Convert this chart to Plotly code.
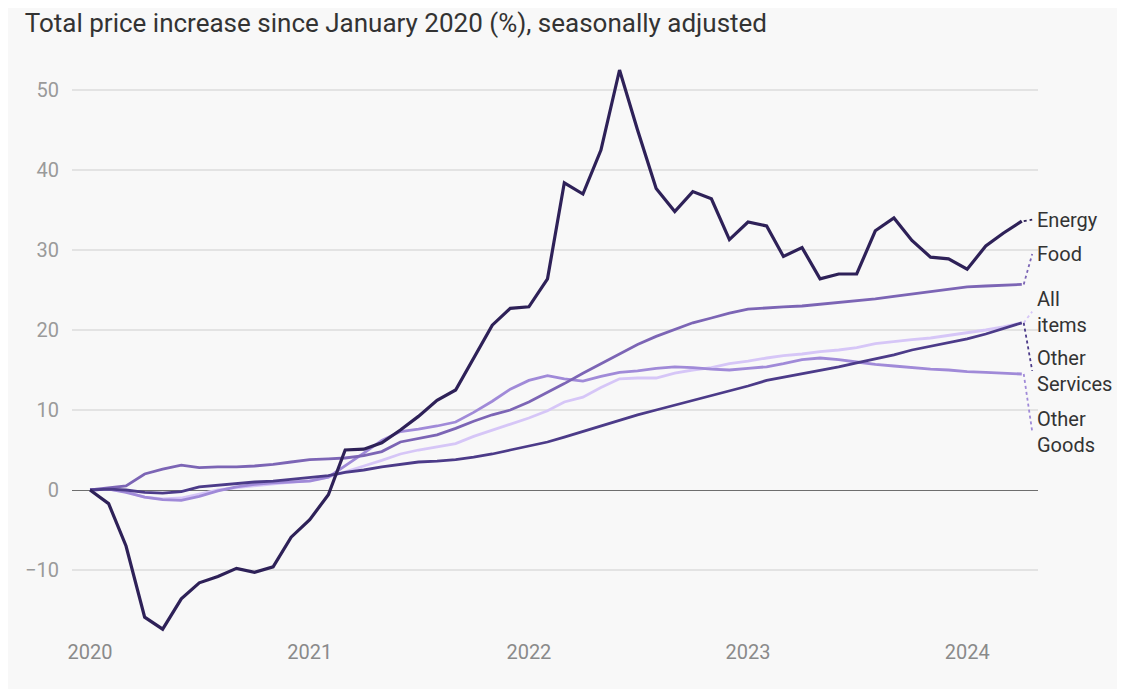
import plotly.graph_objects as go
import pandas as pd

dates = pd.date_range("2020-01-01", "2024-04-01", freq="MS")

energy = [0, -1.7, -7.0, -15.9, -17.4, -13.6, -11.6, -10.8, -9.8, -10.3, -9.6, -5.9,
          -3.7, -0.6, 5.0, 5.1, 5.9, 7.5, 9.2, 11.2, 12.5, 16.5, 20.6, 22.7,
          22.9, 26.4, 38.4, 37.0, 42.5, 52.5, 45.0, 37.7, 34.8, 37.3, 36.4, 31.3,
          33.5, 33.0, 29.2, 30.3, 26.4, 27.0, 27.0, 32.4, 34.0, 31.2, 29.1, 28.9,
          27.6, 30.5, 32.1, 33.6]
food = [0, 0.3, 0.5, 2.0, 2.6, 3.1, 2.8, 2.9, 2.9, 3.0, 3.2, 3.5,
        3.8, 3.9, 4.0, 4.3, 4.8, 6.0, 6.4, 6.9, 7.7, 8.6, 9.4, 10.0,
        11.0, 12.2, 13.3, 14.6, 15.8, 17.1, 18.2, 19.2, 20.1, 20.9, 21.5, 22.1,
        22.6, 22.8, 22.9, 23.0, 23.2, 23.4, 23.6, 23.9, 24.2, 24.5, 24.8, 25.1,
        25.4, 25.5, 25.6, 25.7]
all_items = [0, 0.1, -0.2, -0.9, -1.1, -1.0, -0.5, 0.0, 0.3, 0.5, 0.7, 0.9,
             1.2, 1.6, 2.3, 3.0, 3.7, 4.5, 5.0, 5.4, 5.8, 6.7, 7.5, 8.2,
             9.0, 9.9, 11.0, 11.6, 12.8, 13.9, 14.0, 14.0, 14.6, 15.0, 15.3, 15.8,
             16.1, 16.5, 16.8, 17.0, 17.3, 17.5, 17.8, 18.3, 18.6, 18.8, 19.0, 19.3,
             19.6, 20.0, 20.4, 20.9]
other_services = [0, 0.1, 0.0, -0.3, -0.4, -0.2, 0.4, 0.6, 0.8, 1.0, 1.1, 1.3,
                  1.5, 1.8, 2.2, 2.5, 2.9, 3.2, 3.5, 3.6, 3.8, 4.1, 4.5, 5.0,
                  5.5, 6.0, 6.6, 7.3, 8.0, 8.7, 9.4, 10.0, 10.6, 11.2, 11.8, 12.4,
                  13.0, 13.7, 14.1, 14.5, 15.0, 15.4, 15.9, 16.4, 16.9, 17.5, 18.0, 18.4,
                  18.9, 19.5, 20.2, 20.9]
other_goods = [0, 0.1, -0.3, -0.9, -1.2, -1.3, -0.8, -0.1, 0.4, 0.7, 0.9, 1.0,
               1.1, 1.6, 3.0, 4.6, 6.2, 7.3, 7.6, 8.0, 8.5, 9.7, 11.1, 12.6,
               13.7, 14.3, 13.9, 13.6, 14.2, 14.7, 14.9, 15.2, 15.4, 15.3, 15.1, 15.0,
               15.2, 15.4, 15.8, 16.3, 16.5, 16.3, 16.0, 15.7, 15.5, 15.3, 15.1, 15.0,
               14.8, 14.7, 14.6, 14.5]

series_names = ["All items", "Other Goods", "Food", "Other Services", "Energy"]
series_values = [all_items, other_goods, food, other_services, energy]
series_colors = ["#d6c6f7", "#a08ad8", "#7c65b5", "#4c3b89", "#2e2158"]
series_widths = [2.8, 2.8, 2.8, 2.8, 3.2]
label_texts = {"Energy": "Energy", "Food": "Food", "All items": "All<br>items",
               "Other Services": "Other<br>Services", "Other Goods": "Other<br>Goods"}
label_y = {"Energy": 33.8, "Food": 29.5, "All items": 22.3,
           "Other Services": 14.9, "Other Goods": 7.3}
year_ticks = [2020, 2021, 2022, 2023, 2024]

x_range = [pd.Timestamp("2019-12-02"), pd.Timestamp("2024-04-28")]

fig = go.Figure()
for name, vals, col, w in zip(series_names, series_values, series_colors, series_widths):
    fig.add_trace(go.Scatter(x=dates, y=vals, mode="lines", name=name,
                             line=dict(color=col, width=w), showlegend=False))

span = (x_range[1] - x_range[0]).total_seconds()
x_end_paper = (dates[-1] - x_range[0]).total_seconds() / span

shapes = []
annotations = []
for name, vals, col in zip(series_names, series_values, series_colors):
    shapes.append(dict(type="line", xref="paper", yref="y",
                       x0=x_end_paper + 0.002, y0=vals[-1], x1=0.994, y1=label_y[name],
                       line=dict(color=col, width=1.8, dash="dot")))
    annotations.append(dict(text=label_texts[name], xref="paper", yref="y",
                            x=1.0, y=label_y[name], xanchor="left", yanchor="middle",
                            xshift=-3, showarrow=False, align="left",
                            font=dict(size=20, color="#333333", family="Roboto")))

fig.update_layout(
    width=1117, height=681,
    paper_bgcolor="#f8f8f8", plot_bgcolor="#f8f8f8",
    margin=dict(l=64, r=87, t=42, b=47, autoexpand=False),
    title=dict(text="Total price increase since January 2020 (%), seasonally adjusted",
               x=0.015, xref="container", xanchor="left",
               y=0.978, yref="container", yanchor="middle",
               font=dict(size=26, color="#333333", family="Roboto")),
    xaxis=dict(type="date", range=x_range, showgrid=False, zeroline=False,
               automargin=False,
               tickvals=[pd.Timestamp(f"{y}-01-01") for y in year_ticks],
               ticktext=[str(y) for y in year_ticks],
               tickfont=dict(size=20, color="#8a8a8a", family="Roboto"),
               showline=False, ticks="", ticklabelstandoff=-4),
    yaxis=dict(range=[-19, 55], tickvals=[-10, 0, 10, 20, 30, 40, 50],
               ticktext=["\u221210", "0", "10", "20", "30", "40", "50"],
               automargin=False,
               showgrid=True, gridcolor="#e3e3e3", gridwidth=1.5,
               zeroline=True, zerolinecolor="#6e6e6e", zerolinewidth=1.2,
               tickfont=dict(size=20, color="#9a9a9a", family="Roboto"),
               ticks="outside", ticklen=8, tickcolor="rgba(0,0,0,0)"),
    shapes=shapes,
    annotations=annotations,
)

fig.write_html("out.html")
